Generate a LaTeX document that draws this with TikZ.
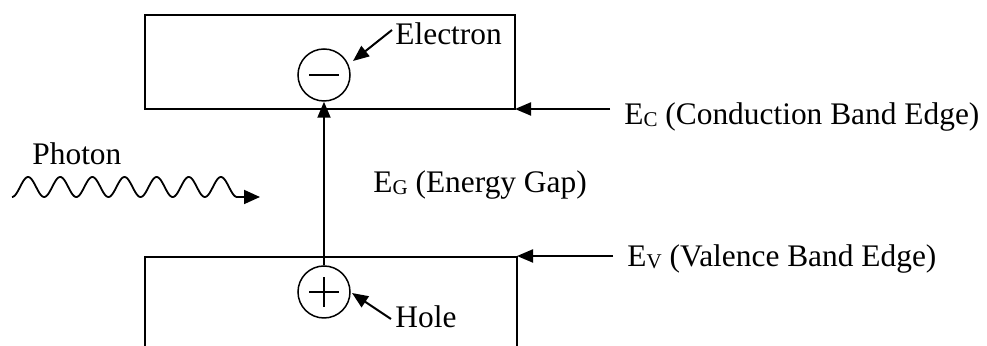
\documentclass[tikz,border=0pt]{standalone}
\usepackage{fontspec}
\setmainfont{Liberation Serif}
\usetikzlibrary{arrows.meta}
\newcommand\subsc[1]{\raisebox{-1pt}{\fontsize{10.5}{12}\selectfont #1}}
\begin{document}
\begin{tikzpicture}[x=0.5pt,y=-0.5pt]
\tikzset{
  edgeline/.style={line width=1pt},
  arr/.style={line width=1pt,-{Triangle[length=8pt,width=6.5pt]}},
  charge/.style={circle,draw,line width=0.75pt,minimum size=26pt,inner sep=0pt},
  lbl/.style={font=\fontsize{15.7}{18}\selectfont,inner sep=0pt,anchor=base west},
}
\useasboundingbox (0,0) rectangle (987,346);
% bands
\draw[edgeline] (145,15) rectangle (515,109);
\draw[edgeline] (145,346) -- (145,257) -- (517,257) -- (517,346);
\coordinate (ecEdge) at (515,109);
\coordinate (evEdge) at (517,256);
% charges
\node[charge] (e) at (324,75) {};
\node[charge] (h) at (324,292) {};
\draw[line width=0.75pt] ([xshift=-7.5pt]e.center) -- ([xshift=7.5pt]e.center);
\draw[line width=0.75pt] ([xshift=-7.5pt]h.center) -- ([xshift=7.5pt]h.center);
\draw[line width=0.75pt] ([yshift=-7.5pt]h.center) -- ([yshift=7.5pt]h.center);
\draw[arr] (h.north) -- (e.south);
% labels
\node[lbl] (elab) at (395,45) {Electron};
\node[lbl] (hlab) at (395,328) {Hole};
\node[lbl] (plab) at (32,165) {Photon};
\node[lbl] (eg) at (373,193) {E\subsc{G} (Energy Gap)};
\node[lbl] (ec) at (624,125) {E\subsc{C} (Conduction Band Edge)};
\node[lbl] (ev) at (627,267) {E\subsc{V} (Valence Band Edge)};
% label arrows
\coordinate (etail) at (392,30);
\coordinate (etip) at (353,61);
\coordinate (htail) at (391,319);
\coordinate (htip) at (352,293);
\draw[arr] (etail) -- (etip);
\draw[arr] (htail) -- (htip);
\coordinate (ectail) at (610,109);
\coordinate (evtail) at (613,256);
\draw[arr] (ectail) -- (ecEdge);
\draw[arr] (evtail) -- (evEdge);
% photon
\coordinate (wend) at (260,197);
\draw[line width=0.9pt,-{Triangle[length=8pt,width=7pt]}]
  plot[domain=12:237,samples=240,smooth] (\x,{187+10*cos(11.2*(\x-12))}) -- (wend);
\end{tikzpicture}
\end{document}
